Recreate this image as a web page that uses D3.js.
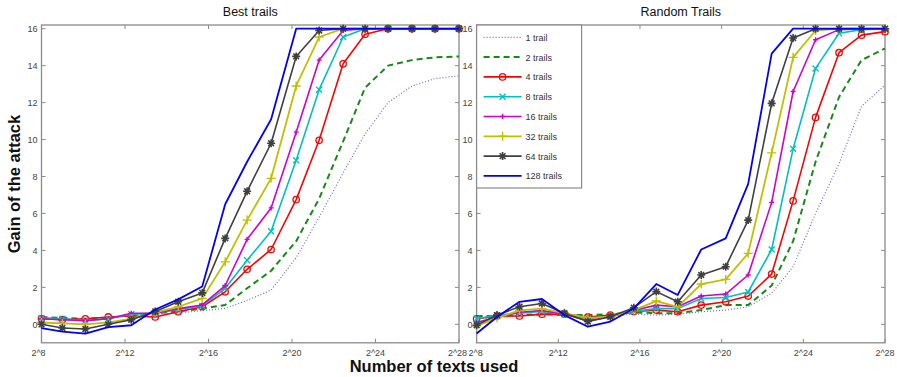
<!DOCTYPE html>
<html>
<head>
<meta charset="utf-8">
<script src="https://cdn.jsdelivr.net/npm/d3@7"></script>
<style>
	body { margin: 0; background: #fff; }
	svg { display: block; font-family: "Liberation Sans", Arial, sans-serif; }
	.tick-label { font-size: 9px; fill: #444; }
	.legend-label { font-size: 9px; fill: #333; }
</style>
</head>
<body>
<div id="chart"></div>
<script>
	// sample points (log2 of the number of texts)
	var sampleExp = [8, 9.0, 10.1, 11.2, 12.3, 13.45, 14.55, 15.7, 16.8, 17.85, 19.0, 20.2, 21.3, 22.45, 23.5, 24.6, 25.75, 26.85, 28];

	var xTickExp = [8, 12, 16, 20, 24, 28];
	var xTickLabels = ["2^8", "2^12", "2^16", "2^20", "2^24", "2^28"];
	var yTicks = [0, 2, 4, 6, 8, 10, 12, 14, 16];

	var trailLabels = ["1 trail", "2 trails", "4 trails", "8 trails", "16 trails", "32 trails", "64 trails", "128 trails"];
	var panelTitles = ["Best trails", "Random Trails"];

	// Best trails
	var best1   = [0.35, 0.3, 0.3, 0.35, 0.5, 0.55, 0.6, 0.75, 0.86, 1.3, 1.85, 3.6, 5.8, 8.2, 10.3, 12.0, 12.9, 13.3, 13.45];
	var best2   = [0.4, 0.35, 0.3, 0.35, 0.5, 0.6, 0.7, 0.85, 1.05, 1.95, 2.9, 4.5, 6.8, 9.9, 12.8, 14.0, 14.3, 14.45, 14.5];
	var best4   = [0.3, 0.25, 0.3, 0.4, 0.45, 0.4, 0.68, 0.95, 1.76, 2.98, 4.05, 6.75, 9.96, 14.1, 15.7, 16, 16, 16, 16];
	var best8   = [0.35, 0.3, 0.2, 0.3, 0.55, 0.6, 0.8, 1.0, 1.95, 3.47, 5.04, 8.88, 12.7, 15.55, 16, 16, 16, 16, 16];
	var best16  = [0.3, 0.25, 0.2, 0.3, 0.6, 0.6, 0.85, 1.05, 2.1, 4.6, 6.3, 10.4, 14.3, 15.9, 16, 16, 16, 16, 16];
	var best32  = [0.1, 0.05, 0.0, 0.1, 0.3, 0.65, 0.95, 1.4, 3.38, 5.64, 7.9, 12.9, 15.55, 16, 16, 16, 16, 16, 16];
	var best64  = [0.0, -0.2, -0.25, 0.0, 0.25, 0.7, 1.22, 1.7, 4.65, 7.2, 9.8, 14.5, 15.9, 16, 16, 16, 16, 16, 16];
	var best128 = [-0.2, -0.4, -0.5, -0.15, -0.05, 0.8, 1.35, 2.05, 6.5, 8.8, 11.1, 16, 16, 16, 16, 16, 16, 16, 16];

	// Random trails
	var rand1   = [0.3, 0.35, 0.45, 0.5, 0.5, 0.35, 0.45, 0.55, 0.5, 0.55, 0.68, 0.77, 0.95, 1.68, 3.12, 6.0, 8.7, 11.8, 12.95];
	var rand2   = [0.45, 0.45, 0.5, 0.55, 0.5, 0.5, 0.55, 0.65, 0.6, 0.6, 0.77, 1.04, 1.04, 2.1, 4.5, 8.8, 12.3, 14.3, 14.93];
	var rand4   = [0.3, 0.45, 0.45, 0.55, 0.55, 0.4, 0.5, 0.7, 0.77, 0.68, 1.04, 1.22, 1.53, 2.72, 6.68, 11.2, 14.7, 15.65, 15.84];
	var rand8   = [0.3, 0.5, 0.6, 0.7, 0.55, 0.3, 0.45, 0.7, 0.85, 0.85, 1.4, 1.45, 1.75, 4.05, 9.5, 13.85, 15.75, 15.95, 16];
	var rand16  = [0.1, 0.4, 0.65, 0.75, 0.55, 0.2, 0.4, 0.75, 1.04, 0.95, 1.53, 1.64, 2.67, 6.6, 12.6, 15.4, 15.95, 16, 16];
	var rand32  = [-0.1, 0.35, 0.75, 0.85, 0.6, 0.35, 0.4, 0.77, 1.26, 0.95, 2.18, 2.43, 3.84, 9.28, 14.45, 15.9, 16, 16, 16];
	var rand64  = [-0.05, 0.5, 0.95, 1.13, 0.6, 0.15, 0.41, 0.9, 1.77, 1.22, 2.67, 3.12, 5.64, 11.96, 15.5, 16, 16, 16, 16];
	var rand128 = [-0.5, 0.4, 1.22, 1.37, 0.5, -0.13, 0.15, 0.86, 2.18, 1.59, 4.05, 4.65, 7.6, 14.65, 16, 16, 16, 16, 16];

	var bestSeries = [best1, best2, best4, best8, best16, best32, best64, best128];
	var randSeries = [rand1, rand2, rand4, rand8, rand16, rand32, rand64, rand128];

	// matlab-ish line styles
	var styles = [
		{color: "#6b6bd6", width: 1.2, dash: "1,2", marker: null},
		{color: "#178a17", width: 2,   dash: "6,4", marker: null},
		{color: "#ff0000", width: 1.6, dash: null,  marker: "o"},
		{color: "#00c0c0", width: 1.6, dash: null,  marker: "x"},
		{color: "#d000d0", width: 1.6, dash: null,  marker: "+s"},
		{color: "#c0c000", width: 1.8, dash: null,  marker: "+"},
		{color: "#404040", width: 1.6, dash: null,  marker: "*"},
		{color: "#0000ff", width: 1.8, dash: null,  marker: null}
	];

	var width = 897, height = 377;
	var yTop = 25, yBottom = 342.8;
	var frameColor = "#8a8a8a";

	var svg = d3.select("#chart").append("svg")
		.attr("width", width)
		.attr("height", height);

	var yScale = d3.scaleLinear()
		.domain([-1, 16.2])
		.range([yBottom, yTop]);

	drawPanel(41.5, 459, panelTitles[0], bestSeries, false);
	drawPanel(476.6, 885, panelTitles[1], randSeries, true);

	// axis labels
	svg.append("text")
		.attr("x", 434)
		.attr("y", 372)
		.attr("text-anchor", "middle")
		.style("font-size", "16.5px")
		.style("font-weight", "bold")
		.style("fill", "#111")
		.text("Number of texts used");

	svg.append("text")
		.attr("transform", "translate(20,184) rotate(-90)")
		.attr("text-anchor", "middle")
		.style("font-size", "16.5px")
		.style("font-weight", "bold")
		.style("fill", "#111")
		.text("Gain of the attack");

	function drawPanel(left, right, title, series, withLegend){

		var xScale = d3.scaleLinear()
			.domain([8, 28])
			.range([left, right]);

		var g = svg.append("g");

		// frame
		g.append("rect")
			.attr("x", left)
			.attr("y", yTop)
			.attr("width", right - left)
			.attr("height", yBottom - yTop)
			.attr("fill", "none")
			.attr("stroke", frameColor)
			.attr("stroke-width", 1.3);

		// ticks, inward on all four sides
		var tl = 4;
		var last = xTickExp.length - 1;
		xTickExp.forEach(function(e, i){
			var x = xScale(e);
			g.append("line").attr("x1", x).attr("x2", x).attr("y1", yBottom).attr("y2", yBottom - tl)
				.attr("stroke", frameColor);
			g.append("line").attr("x1", x).attr("x2", x).attr("y1", yTop).attr("y2", yTop + tl)
				.attr("stroke", frameColor);
			// the two panels share the gap, so the end labels are nudged apart
			var lx = x;
			if(i == 0) lx = withLegend ? x - 1 : x - 3;
			if(i == last && !withLegend) lx = x - 1.5;
			g.append("text")
				.attr("class", "tick-label")
				.attr("x", lx)
				.attr("y", yBottom + 13)
				.attr("text-anchor", "middle")
				.text(xTickLabels[i]);
		});

		yTicks.forEach(function(v){
			var y = yScale(v);
			g.append("line").attr("x1", left).attr("x2", left + tl).attr("y1", y).attr("y2", y)
				.attr("stroke", frameColor);
			g.append("line").attr("x1", right).attr("x2", right - tl).attr("y1", y).attr("y2", y)
				.attr("stroke", frameColor);
			g.append("text")
				.attr("class", "tick-label")
				.attr("x", left - 4)
				.attr("y", y + 3.5)
				.attr("text-anchor", "end")
				.text(v);
		});

		// title
		g.append("text")
			.attr("x", (left + right) / 2)
			.attr("y", 16)
			.attr("text-anchor", "middle")
			.style("font-size", "12.5px")
			.style("fill", "#111")
			.text(title);

		var line = d3.line()
			.x(function(d, i){ return xScale(sampleExp[i]); })
			.y(function(d){ return yScale(d); });

		series.forEach(function(values, k){
			var st = styles[k];
			g.append("path")
				.datum(values)
				.attr("d", line)
				.attr("fill", "none")
				.attr("stroke", st.color)
				.attr("stroke-width", st.width)
				.attr("stroke-linejoin", "round")
				.attr("stroke-dasharray", st.dash);

			if(st.marker){
				values.forEach(function(v, i){
					drawMarker(g, st.marker, xScale(sampleExp[i]), yScale(v), st.color);
				});
			}
		});

		if(withLegend)
			drawLegend(left);
	}

	function drawLegend(left){
		var lg = svg.append("g");
		lg.append("rect")
			.attr("x", left)
			.attr("y", yTop)
			.attr("width", 105)
			.attr("height", 163)
			.attr("fill", "#fff")
			.attr("stroke", frameColor)
			.attr("stroke-width", 1.2);

		trailLabels.forEach(function(label, k){
			var st = styles[k];
			var y = 37.3 + k * 19.8;
			lg.append("line")
				.attr("x1", left + 7)
				.attr("x2", left + 45)
				.attr("y1", y)
				.attr("y2", y)
				.attr("stroke", st.color)
				.attr("stroke-width", st.width)
				.attr("stroke-dasharray", st.dash);
			if(st.marker)
				drawMarker(lg, st.marker, left + 26, y, st.color);
			lg.append("text")
				.attr("class", "legend-label")
				.attr("x", left + 49)
				.attr("y", y + 3.5)
				.text(label);
		});
	}

	function drawMarker(g, type, x, y, color){
		var m = g.append("g")
			.attr("transform", "translate(" + x + "," + y + ")")
			.attr("stroke", color)
			.attr("fill", "none");
		var s;
		if(type == "o"){
			m.append("circle").attr("r", 3.2).attr("stroke-width", 1.3);
		} else if(type == "x"){
			s = 3;
			m.append("path").attr("d", "M" + -s + "," + -s + "L" + s + "," + s + "M" + -s + "," + s + "L" + s + "," + -s)
				.attr("stroke-width", 1.3);
		} else if(type == "+" || type == "+s"){
			s = type == "+" ? 4.5 : 2.5;
			m.append("path").attr("d", "M" + -s + ",0L" + s + ",0M0," + -s + "L0," + s)
				.attr("stroke-width", 1.4);
		} else if(type == "*"){
			s = 4;
			var d = s * 0.72;
			m.append("path").attr("d", "M" + -s + ",0L" + s + ",0M0," + -s + "L0," + s +
				"M" + -d + "," + -d + "L" + d + "," + d + "M" + -d + "," + d + "L" + d + "," + -d)
				.attr("stroke-width", 1.6);
		}
	}
</script>
</body>
</html>
